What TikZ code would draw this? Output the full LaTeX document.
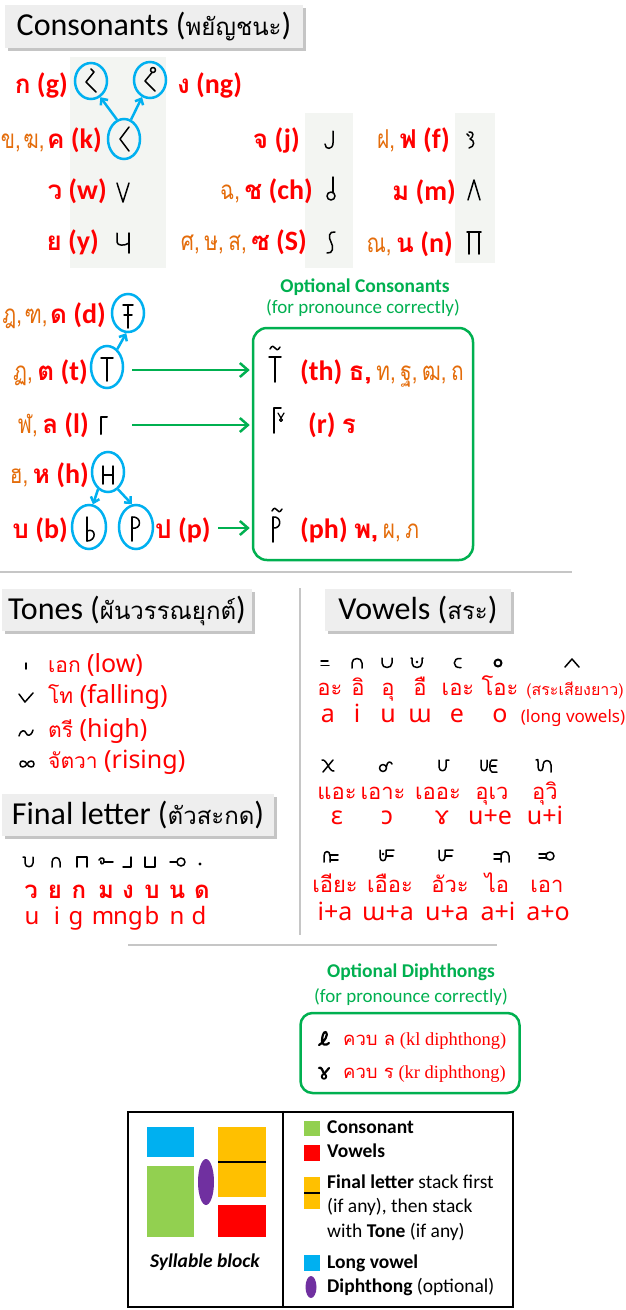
\documentclass[tikz,border=0pt]{standalone}
\usepackage{fontspec}
\setmainfont{Carlito}
\newfontfamily\thai[Script=Thai]{Loma}
\newfontfamily\thaiN[Script=Thai, FakeStretch=0.8]{Loma}
\newfontfamily\nsans{Noto Sans}
\newfontfamily\tserif{Liberation Serif}
\usetikzlibrary{arrows.meta,shapes.geometric,shadows}
\definecolor{tred}{HTML}{FF0000}
\definecolor{torange}{HTML}{E46C0A}
\definecolor{tgreen}{HTML}{00B050}
\definecolor{tcyan}{HTML}{00B0F0}
\definecolor{lblue}{HTML}{00B0F0}
\definecolor{lgreen}{HTML}{92D050}
\definecolor{lorange}{HTML}{FFC000}
\definecolor{lpurple}{HTML}{7030A0}
\definecolor{colbg}{HTML}{F3F5F2}
\definecolor{sepgray}{HTML}{C6C6C6}
\definecolor{hdrgray}{HTML}{EEEEEE}
\newcommand\fs[1]{\fontsize{#1}{#1}\selectfont}
\newcommand\TO[1]{{\color{torange}\thaiN\mdseries\fs{26}#1}}
\newcommand\TR[1]{{\color{tred}\thai\bfseries\fs{26}#1}}
\newcommand\LB[1]{{\color{tred}\bfseries #1}}
\newcommand\cs{,\hspace{4.5pt}}
\newcommand\csn{,\hspace{2.5pt}}
\tikzset{
 gly/.style={draw=black, line width=1.5pt, line cap=round, line join=round},
 hbox/.style={fill=hdrgray, inner sep=0pt, text height=24pt, text depth=6pt, font=\fs{32},
   drop shadow={opacity=0.45, shadow xshift=2.5pt, shadow yshift=-3pt}},
 circ/.style={ellipse, draw=tcyan, line width=2.5pt, inner sep=0pt, minimum width=32pt, minimum height=36pt},
 carrow/.style={draw=tcyan, line width=2.5pt, -{Straight Barb[length=5pt,width=9pt]}},
 garrow/.style={draw=tgreen, line width=2.5pt, -{Straight Barb[length=8pt,width=14pt]}},
 lab/.style={inner sep=0pt, font=\fs{28}},
 sepl/.style={draw=sepgray, line width=1.5pt},
 tone/.style={anchor=base west, inner sep=0pt, text=tred, font=\nsans\fs{25}},
 vth/.style={anchor=base, inner sep=0pt, text depth=3pt, text=tred, font=\thai\fs{22}},
 vla/.style={anchor=base, inner sep=0pt, text=tred, font=\nsans\fs{25}},
 lt/.style={anchor=base west, inner sep=0pt, font=\fs{19.5}},
 gtitle/.style={anchor=base, inner sep=0pt, text=tgreen, font=\fs{19.5}\bfseries},
 gsub/.style={anchor=base, inner sep=0pt, text=tgreen, font=\fs{19}},
 % consonant glyphs
 pics/gG/.style={code={\draw[gly] (0,-12) -- (3,-9) -- (-5,1) -- (5,11);}},
 pics/gNG/.style={code={\draw[gly] (3,-10) circle (2.5pt); \draw[gly] (2,-7.5) -- (-5,1) -- (5,11);}},
 pics/gK/.style={code={\draw[gly] (5,-12) -- (-4,0) -- (5,12);}},
 pics/gW/.style={code={\draw[gly] (-6,-10) -- (0,9) -- (6,-10);}},
 pics/gY/.style={code={\draw[gly] (-6,-10) -- (-6,-1) .. controls (-6,3) and (2,3) .. (6,0); \draw[gly] (6,-10) -- (6,10);}},
 pics/gJ/.style={code={\draw[gly] (4,-9) -- (4,3) .. controls (4,10) and (-4,10) .. (-4,4);}},
 pics/gCH/.style={code={\draw[gly] (2,-12) -- (2,3.5); \draw[gly] (0,7) circle (4pt);}},
 pics/gS/.style={code={\draw[gly] (4,-11) .. controls (-2,-12) and (-3,-6) .. (0,-1) .. controls (3,4) and (2,11) .. (-4,10);}},
 pics/gF/.style={code={\draw[gly] (-3,-6) -- (-1,-4); \draw[gly] (-1,-8) .. controls (4,-9) and (4,-3) .. (0,-1) .. controls (5,0) and (5,7) .. (-1,8);}},
 pics/gM/.style={code={\draw[gly] (-6,10) -- (0,-10) -- (6,10);}},
 pics/gN/.style={code={\draw[gly] (-7,-11) -- (7,-11); \draw[gly] (-5,-11) -- (-5,11); \draw[gly] (5,-11) -- (5,11);}},
 pics/gD/.style={code={\draw[gly] (-5,-11) -- (5,-11); \draw[gly] (0,-11) -- (0,12); \draw[gly] (-4,-1) -- (4,-1);}},
 pics/gT/.style={code={\draw[gly] (-6,-11) -- (6,-11); \draw[gly] (0,-11) -- (0,12);}},
 pics/gL/.style={code={\draw[gly, line width=2pt] (-2,9) -- (-2,-8) -- (4,-8);}},
 pics/gH/.style={code={\draw[gly] (-5,-9) -- (-5,9); \draw[gly] (5,-9) -- (5,9); \draw[gly] (-5,0) -- (5,0);}},
 pics/gB/.style={code={\draw[gly] (-4,-12) -- (-4,12); \draw[gly] (-4,2) .. controls (5,-2) and (6,12) .. (-4,12);}},
 pics/gP/.style={code={\draw[gly] (-4,-12) -- (-4,12); \draw[gly] (-4,-12) .. controls (6,-13) and (6,1) .. (-4,-1);}},
 pics/gTH/.style={code={\draw[gly] (-6,-8) -- (6,-8); \draw[gly] (0,-8) -- (0,17);
   \draw[gly] (-5,-16) .. controls (-3,-20) and (-1,-19) .. (0,-17) .. controls (1,-15) and (3,-14) .. (5,-18);}},
 pics/gR/.style={code={\draw[gly] (-4,13) -- (-4,-12) -- (3,-12); \draw[gly, line width=1.2pt] (0,-7) -- (3,-2) -- (6,-7); \draw[gly, line width=1.2pt] (3,0) circle (1.5pt);}},
 pics/gPH/.style={code={\draw[gly] (-4,-8) -- (-4,17); \draw[gly] (-4,-8) .. controls (5,-9) and (5,4) .. (-4,3);
   \draw[gly] (-5,-14) .. controls (-3,-18) and (-1,-17) .. (0,-15) .. controls (1,-13) and (3,-12) .. (5,-16);}},
 % vowel glyphs
 pics/vA/.style={code={\draw[gly] (-4,-2) -- (3,-2); \draw[gly] (-4,2.5) -- (4,2.5);}},
 pics/vI/.style={code={\draw[gly] (-5,5) -- (-5,0) .. controls (-5,-6) and (5,-6) .. (5,0) -- (5,5);}},
 pics/vU/.style={code={\draw[gly] (-5,-5) -- (-5,0) .. controls (-5,6) and (5,6) .. (5,0) -- (5,-5);}},
 pics/vW/.style={code={\draw[gly] (-6,-5) -- (-5,-5) -- (-5,0) .. controls (-5,6) and (5,6) .. (5,0) -- (5,-5) -- (6,-5); \fill (0,-1) circle (1.4pt);}},
 pics/vE/.style={code={\draw[gly] (4,-4.5) .. controls (-5,-6) and (-5,6) .. (4,4.5);}},
 pics/vO/.style={code={\draw[gly, line width=2pt] (0,0) circle (3.5pt);}},
 pics/vL/.style={code={\draw[gly] (-7,4) -- (0,-4) -- (7,4);}},
 pics/vEH/.style={code={\draw[gly] (-6,-6) .. controls (-1,-7) and (1,6) .. (6,5); \draw[gly] (5,-6) -- (-5,6);}},
 pics/vOH/.style={code={\draw[gly] (-2,2) circle (3.5pt); \draw[gly] (1.5,0.5) .. controls (2,-5) and (6,-5) .. (7,-2);}},
 pics/vER/.style={code={\draw[gly] (-4,-6) -- (-4,1) .. controls (-4,6) and (3,6) .. (3,1) -- (3,-6) -- (6,-6);}},
 pics/vUE/.style={code={\draw[gly] (-9,-6) -- (-9,1) .. controls (-9,6) and (-3,6) .. (-3,1) -- (-3,-6);
   \draw[gly] (7,-6) -- (2,-6) .. controls (-1,-6) and (-1,6) .. (2,6) -- (7,6); \draw[gly] (1,0) -- (6,0);}},
 pics/vUI/.style={code={\draw[gly] (-9,-6) .. controls (-7,-7) .. (-7,-4) -- (-7,1) .. controls (-7,6) and (-2,6) .. (-2,1) -- (-2,-1) .. controls (-2,-7) and (6,-7) .. (6,-1) -- (6,6);}},
 pics/vIA/.style={code={\draw[gly] (-8,6) -- (-8,0) .. controls (-8,-6) and (-2,-6) .. (-2,0) -- (-2,6); \draw[gly] (-2,-1) -- (6,-1); \draw[gly] (-2,4) -- (6,4);}},
 pics/vWA/.style={code={\draw[gly] (-8,-6) -- (-8,1) .. controls (-8,6) and (-2,6) .. (-2,1) -- (-2,-6) -- (6,-6); \draw[gly] (-2,0) -- (5,0); \fill (-5,-2) circle (1.4pt);}},
 pics/vUA/.style={code={\draw[gly] (-8,-6) -- (-8,1) .. controls (-8,6) and (-2,6) .. (-2,1) -- (-2,-6) -- (6,-6); \draw[gly] (-2,0) -- (5,0);}},
 pics/vAI/.style={code={\draw[gly] (-8,-2) -- (-1,-2); \draw[gly] (-8,3) -- (-1,3); \draw[gly] (-1,6) -- (-1,0) .. controls (-1,-6) and (7,-6) .. (7,0) -- (7,6);}},
 pics/vAO/.style={code={\draw[gly] (-8,-2) -- (-1,-2); \draw[gly] (-8,2) -- (-1,2); \draw[gly] (3,0) circle (4pt);}},
 % final letter glyphs
 pics/fU/.style={code={\draw[gly] (-6,-5) -- (-4,-5) -- (-4,1) .. controls (-4,6) and (4,6) .. (4,1) -- (4,-5);}},
 pics/fI/.style={code={\draw[gly] (-4,5) -- (-4,0) .. controls (-4,-6) and (4,-6) .. (4,0) -- (4,5);}},
 pics/fG/.style={code={\draw[gly] (-5,5) -- (-5,-5) -- (5,-5) -- (5,5);}},
 pics/fM/.style={code={\draw[gly] (-7,-2) .. controls (-5,-6) and (-1,-4) .. (-2,0) .. controls (-3,3) and (-6,2) .. (-5,-1); \draw[gly] (-2,0) -- (7,0);}},
 pics/fNG/.style={code={\draw[gly] (-5,5) -- (3,5) -- (3,-5);}},
 pics/fB/.style={code={\draw[gly] (-5,-5) -- (-5,5) -- (5,5) -- (5,-5);}},
 pics/fN/.style={code={\draw[gly] (-7,0) -- (0,0); \draw[gly] (4,0) circle (4pt);}},
 pics/fD/.style={code={\fill (0,2) circle (1.6pt);}},
 % tone glyphs
 pics/tLow/.style={code={\draw[gly] (0,-3) -- (0,3);}},
 pics/tFall/.style={code={\draw[gly] (-7,-4) -- (-1,4) -- (7,-5);}},
 pics/tHigh/.style={code={\draw[gly] (-7,3) .. controls (-5,-4) and (-1,-3) .. (0,0) .. controls (1,3) and (5,4) .. (7,-3);}},
 pics/tRise/.style={code={\draw[gly] (0,0) .. controls (2,-4) and (7,-4) .. (7,0) .. controls (7,4) and (2,4) .. (0,0) .. controls (-2,-4) and (-7,-4) .. (-7,0) .. controls (-7,4) and (-2,4) .. (0,0);}},
 % diphthong glyphs
 pics/dKL/.style={code={\draw[gly, line width=2.2pt] (-5,5) .. controls (0,3) and (5,-6) .. (2,-8) .. controls (-1,-9) and (-2,-2) .. (-2,1) .. controls (-2,5) and (2,6) .. (5,3);}},
 pics/dKR/.style={code={\draw[gly, line width=2.2pt] (-5,-5) .. controls (-3,-7) and (-1,-2) .. (0,1); \draw[gly, line width=2.2pt] (5,-5) -- (0,1); \draw[gly, line width=1.8pt] (0,3.5) circle (2.3pt);}},
}
\begin{document}
\begin{tikzpicture}[x=1pt,y=-1pt]
\useasboundingbox (0,0) rectangle (625,1310);
\fill[white] (0,0) rectangle (625,1310);
% ---------- consonants ----------
\fill[colbg] (70,57) rectangle (166,268);
\fill[colbg] (305,113) rectangle (353,268);
\fill[colbg] (455,113) rectangle (495,263);
\node[hbox, minimum width=298pt, minimum height=43pt] (hcons) at (154,26) {Consonants ({\fs{24}\thai พยัญชนะ})};

\node[circ] (cg) at (91,81) {};
\node[circ] (cng) at (150,80) {};
\node[circ, minimum height=40pt] (ck) at (124,139) {};
\pic at (cg) {gG};
\pic at (cng) {gNG};
\pic at (ck) {gK};
\draw[carrow] (ck.110) -- (cg.-60);
\draw[carrow] (ck.70) -- (cng.-115);

\node[lab, anchor=base east] (lk) at (102,148) {\TO{ข\csn ฆ\csn}\TR{ค} \LB{(k)}};
\node[lab, anchor=base east] (lg) at (68,93) {\TR{ก} \LB{(g)}};
\node[lab, anchor=base west] (lng) at (177,93) {\TR{ง} \LB{(ng)}};
\node[lab, anchor=base east] (lj) at (300,148) {\TR{จ} \LB{(j)}};
\node[lab, anchor=base east] (lf) at (450,148) {\TO{ฝ\cs}\TR{ฟ} \LB{(f)}};
\node[lab, anchor=base east] (lw) at (107,199) {\TR{ว} \LB{(w)}};
\node[lab, anchor=base east] (lch) at (313,199) {\TO{ฉ\cs}\TR{ช} \LB{(ch)}};
\node[lab, anchor=base east] (lm) at (456,200) {\TR{ม} \LB{(m)}};
\node[lab, anchor=base east] (ly) at (99,250) {\TR{ย} \LB{(y)}};
\node[lab, anchor=base east] (ls) at (307,250) {\TO{ศ\cs ษ\cs ส\cs}\TR{ซ} \LB{(S)}};
\node[lab, anchor=base east] (ln) at (453,252) {\TO{ณ\cs}\TR{น} \LB{(n)}};
\pic at (329,140) {gJ};
\pic at (470,140) {gF};
\pic at (123,193) {gW};
\pic at (331,189) {gCH};
\pic at (474,190) {gM};
\pic at (123,243) {gY};
\pic at (331,243) {gS};
\pic at (474,243) {gN};

% ---------- dental / labial consonants ----------
\node[circ, minimum height=38pt] (cd) at (128,313) {};
\node[circ, minimum height=42pt] (ct) at (107,367) {};
\node[circ, minimum height=40pt] (chh) at (108,472) {};
\node[circ, minimum width=34pt, minimum height=44pt] (cb) at (89,527) {};
\node[circ, minimum width=34pt, minimum height=44pt] (cp) at (136,527) {};
\pic at (128,316) {gD};
\pic at (107,369) {gT};
\pic at (103,425) {gL};
\pic at (108,475) {gH};
\pic at (91,529) {gB};
\pic at (136,529) {gP};
\draw[carrow] (ct.60) -- (cd.-95);
\draw[carrow] (chh.-120) -- (cb.80);
\draw[carrow] (chh.-60) -- (cp.100);

\node[lab, anchor=base east] (ld) at (106,323) {\TO{ฎ\csn ฑ\csn}\TR{ด} \LB{(d)}};
\node[lab, anchor=base east] (lt) at (88,380) {\TO{ฏ\cs}\TR{ต} \LB{(t)}};
\node[lab, anchor=base east] (ll) at (89,433) {\TO{ฬ\cs}\TR{ล} \LB{(l)}};
\node[lab, anchor=base east] (lh) at (89,483) {\TO{ฮ\cs}\TR{ห} \LB{(h)}};
\node[lab, anchor=base east] (lb) at (68,538) {\TR{บ} \LB{(b)}};
\node[lab, anchor=base west] (lp) at (155,538) {\TR{ป} \LB{(p)}};

\node[gtitle] (otitle) at (365,292) {Optional Consonants};
\node[gsub] (osub) at (363,313) {(for pronounce correctly)};
\node[draw=tgreen, line width=2.5pt, rounded corners=14pt, minimum width=220pt, minimum height=232pt, inner sep=0pt] (obox) at (363,444) {};

\coordinate (at) at (132,370);
\coordinate (al) at (132,425);
\coordinate (ap) at (218,528);
\draw[garrow] (at) -- ([xshift=-2pt]obox.west |- at);
\draw[garrow] (al) -- ([xshift=-2pt]obox.west |- al);
\draw[garrow] (ap) -- ([xshift=-2pt]obox.west |- ap);

\pic at (275,365) {gTH};
\node[lab, anchor=base west] (lth) at (300,380) {\LB{(th)} \TR{ธ\cs}\TO{ท\cs ฐ\cs ฒ\cs ถ}};
\pic at (278,420) {gR};
\node[lab, anchor=base west] (lr) at (308,433) {\LB{(r)} \TR{ร}};
\pic at (277,525) {gPH};
\node[lab, anchor=base west] (lph) at (300,538) {\LB{(ph)} \TR{พ\cs}\TO{ผ\cs ภ}};

% ---------- separators ----------
\draw[sepl] (0,572) -- (572,572);
\draw[sepl] (300,588) -- (300,935);
\draw[sepl] (128,945) -- (497,945);

% ---------- tones ----------
\node[hbox, minimum width=250pt, minimum height=42pt] (htones) at (127,610) {Tones ({\fs{24}\thai ผันวรรณยุกต์})};
\pic at (26,666) {tLow};
\pic at (26,698) {tFall};
\pic at (26,733) {tHigh};
\pic at (27,764) {tRise};
\node[tone] (tn1) at (48,672) {{\thai\fs{21}เอก} (low)};
\node[tone] (tn2) at (48,703) {{\thai\fs{21}โท} (falling)};
\node[tone] (tn3) at (48,737) {{\thai\fs{21}ตรี} (high)};
\node[tone] (tn4) at (48,768) {{\thai\fs{21}จัตวา} (rising)};

% ---------- final letters ----------
\node[hbox, minimum width=272pt, minimum height=42pt] (hfinal) at (138,815) {Final letter ({\fs{24}\thai ตัวสะกด})};
\pic at (29,862) {fU};
\pic at (56,862) {fI};
\pic at (82,862) {fG};
\pic at (106,862) {fM};
\pic at (128,862) {fNG};
\pic at (150,862) {fB};
\pic at (177,862) {fN};
\pic at (200,862) {fD};
\foreach \x/\t [count=\i] in {31/ว,55/ย,79/ก,106/ม,128/ง,152/บ,177/น,202/ด}
  \node[anchor=base, inner sep=0pt, text=tred, font=\thai\bfseries\fs{24}] (fth\i) at (\x,898) {\t};
\foreach \x/\t [count=\i] in {32/u,57/i,76/g,103/m,128/ng,152/b,177/n,199/d}
  \node[anchor=base, inner sep=0pt, text=tred, font=\nsans\fs{24}] (fla\i) at (\x,924) {\t};

% ---------- vowels ----------
\node[hbox, minimum width=186pt, minimum height=42pt] (hvow) at (418,610) {Vowels ({\fs{24}\thai สระ})};
\pic at (325,663) {vA};
\pic at (357,663) {vI};
\pic at (387,663) {vU};
\pic at (417,663) {vW};
\pic at (457,663) {vE};
\pic at (498,663) {vO};
\pic at (572,663) {vL};
\foreach \x/\t [count=\i] in {330/อะ,358/อิ,388/อุ,420/อื,458/เอะ,500/โอะ}
  \node[vth] (va\i) at (\x,695) {\t};
\node[vth, font=\thai\fs{16}] (va7) at (575,695) {(สระเสียงยาว)};
\foreach \x/\t [count=\i] in {328/a,357/i,388/u,420/ɯ,457/e,500/o}
  \node[vla] (vl\i) at (\x,722) {\t};
\node[vla, font=\nsans\fs{17}] (vl7) at (573,722) {(long vowels)};

\pic at (328,766) {vEH};
\pic at (385,766) {vOH};
\pic at (443,766) {vER};
\pic at (490,766) {vUE};
\pic at (545,766) {vUI};
\foreach \x/\t [count=\i] in {337/แอะ,383/เอาะ,438/เออะ,492/อุเว,545/อุวิ}
  \node[vth] (vb\i) at (\x,799) {\t};
\foreach \x/\t [count=\i] in {337/ɛ,387/ɔ,442/ɤ,490/u+e,545/u+i}
  \node[vla] (vm\i) at (\x,824) {\t};

\pic at (332,856) {vIA};
\pic at (388,856) {vWA};
\pic at (447,856) {vUA};
\pic at (502,856) {vAI};
\pic at (547,856) {vAO};
\foreach \x/\t [count=\i] in {335/เอียะ,390/เอือะ,450/อัวะ,497/ไอ,547/เอา}
  \node[vth] (vc\i) at (\x,892) {\t};
\foreach \x/\t [count=\i] in {335/i+a,388/ɯ+a,447/u+a,498/a+i,548/a+o}
  \node[vla] (vn\i) at (\x,920) {\t};

% ---------- diphthongs ----------
\node[gtitle] (dtitle) at (411,977) {Optional Diphthongs};
\node[gsub] (dsub) at (411,1002) {(for pronounce correctly)};
\node[draw=tgreen, line width=2.5pt, rounded corners=12pt, minimum width=219pt, minimum height=80pt, inner sep=0pt] (dbox) at (410,1053) {};
\pic at (324,1040) {dKL};
\pic at (324,1073) {dKR};
\node[anchor=base west, inner sep=0pt, text=tred, font=\tserif\fs{18.5}] (dk1) at (343,1045) {{\thai ควบ ล} (kl diphthong)};
\node[anchor=base west, inner sep=0pt, text=tred, font=\tserif\fs{18.5}] (dk2) at (343,1078) {{\thai ควบ ร} (kr diphthong)};

% ---------- legend ----------
\node[draw, line width=2.5pt, minimum width=385pt, minimum height=195pt, inner sep=0pt] (leg) at (320.5,1209.5) {};
\draw[line width=2.5pt] ([xshift=-37.5pt]leg.north) -- ([xshift=-37.5pt]leg.south);
\fill[lblue] (147,1127) rectangle (194,1157);
\fill[lgreen] (147,1166) rectangle (194,1237);
\fill[lpurple] (206,1182) ellipse [x radius=8, y radius=23];
\fill[lorange] (218,1127) rectangle (266,1197);
\draw[line width=1.5pt] (218,1162) -- (266,1162);
\fill[tred] (218,1205) rectangle (266,1237);
\node[anchor=base, inner sep=0pt, font=\fs{19.5}\bfseries\itshape] (sb) at (205,1267) {Syllable block};

\fill[lgreen] (304,1121) rectangle (320,1136);
\fill[tred] (304,1145) rectangle (320,1161);
\fill[lorange] (304,1177) rectangle (320,1209);
\draw[line width=1.2pt] (304,1193) -- (320,1193);
\fill[lblue] (304,1255) rectangle (320,1271);
\fill[lpurple] (311,1287) ellipse [x radius=5.5, y radius=11];
\node[lt] (lg1) at (327,1133) {\textbf{Consonant}};
\node[lt] (lg2) at (327,1157) {\textbf{Vowels}};
\node[lt] (lg3) at (327,1188) {\textbf{Final letter} stack first};
\node[lt] (lg4) at (327,1212) {(if any), then stack};
\node[lt] (lg5) at (327,1237) {with \textbf{Tone} (if any)};
\node[lt] (lg6) at (327,1268) {\textbf{Long vowel}};
\node[lt] (lg7) at (327,1292) {\textbf{Diphthong} (optional)};
\end{tikzpicture}
\end{document}
